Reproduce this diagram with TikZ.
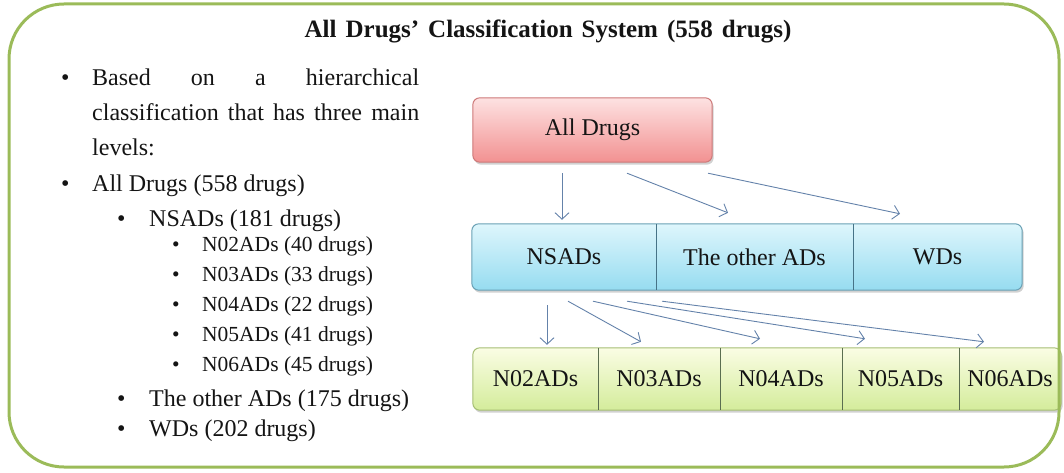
\documentclass[tikz,border=0pt]{standalone}
\usepackage{fontspec}
\setmainfont{Liberation Serif}
\usetikzlibrary{arrows.meta,calc,shadows}
\pgfdeclarelayer{background}
\pgfsetlayers{background,main}

\definecolor{frameG}{RGB}{155,187,89}
\definecolor{txt}{RGB}{20,20,20}
\definecolor{arr}{RGB}{100,130,170}
\definecolor{pinkT}{RGB}{253,226,226}
\definecolor{pinkB}{RGB}{242,145,145}
\definecolor{pinkD}{RGB}{205,120,120}
\definecolor{blueT}{RGB}{222,246,252}
\definecolor{blueB}{RGB}{150,220,240}
\definecolor{blueD}{RGB}{105,160,180}
\definecolor{blueL}{RGB}{70,115,135}
\definecolor{greenT}{RGB}{250,253,228}
\definecolor{greenB}{RGB}{212,236,155}
\definecolor{greenD}{RGB}{165,190,115}
\definecolor{greenL}{RGB}{90,110,80}

\newcommand\mainsz{\fontsize{24pt}{28pt}\selectfont}
\newcommand\subsz{\fontsize{21.5pt}{25pt}\selectfont}
\newcommand\bul[1]{\makebox[#1][l]{\textbullet}}

\begin{document}
\begin{tikzpicture}[x=1pt,y=-1pt,
  frame/.style={draw=frameG,line width=3pt,rounded corners=55pt},
  line/.style={anchor=base west,inner sep=0pt,text=txt},
  cell/.style={inner sep=0pt,text=txt,font=\mainsz},
  shade/.style={rounded corners=7pt,line width=1pt,
    drop shadow={shadow xshift=1.5pt,shadow yshift=-2.5pt,opacity=0.3,fill=black!60}},
  pinkbox/.style={shade,draw=pinkD,top color=pinkT,bottom color=pinkB},
  bluebox/.style={shade,draw=blueD,top color=blueT,bottom color=blueB},
  greenbox/.style={shade,draw=greenD,top color=greenT,bottom color=greenB},
  divb/.style={draw=blueL,line width=0.8pt},
  divg/.style={draw=greenL,line width=0.8pt},
  link/.style={draw=arr,line width=0.9pt,-{Straight Barb[length=6.5pt,width=14pt,line width=0.9pt]}}
]
\useasboundingbox (0,0) rectangle (1064,473);

% outer frame
\draw[frame] (9,4) rectangle (1059,467);

% title
\node[anchor=base,inner sep=0pt,text=txt,font=\fontsize{25pt}{30pt}\selectfont\bfseries] (title) at (548,38)
  {\spaceskip=9pt All Drugs’ Classification System (558 drugs)};

% bullet list
\node[line,font=\mainsz] (t1) at (61,86) {\bul{31pt}\hbox to 327pt{Based\hfill on\hfill a\hfill hierarchical}};
\node[line,font=\mainsz] (t2) at (92,121) {\hbox to 327pt{classification\hfil\ that\hfil\ has\hfil\ three\hfil\ main}};
\node[line,font=\mainsz] (t3) at (92,156) {levels:};
\node[line,font=\mainsz] (t4) at (61,191) {\bul{31pt}All Drugs (558 drugs)};
\node[line,font=\mainsz] (t5) at (117,226) {\bul{32pt}NSADs (181 drugs)};
\node[line,font=\subsz] (t6) at (172,251) {\bul{30pt}N02ADs (40 drugs)};
\node[line,font=\subsz] (t7) at (172,281) {\bul{30pt}N03ADs (33 drugs)};
\node[line,font=\subsz] (t8) at (172,311) {\bul{30pt}N04ADs (22 drugs)};
\node[line,font=\subsz] (t9) at (172,341) {\bul{30pt}N05ADs (41 drugs)};
\node[line,font=\subsz] (t10) at (172,371) {\bul{30pt}N06ADs (45 drugs)};
\node[line,font=\mainsz] (t11) at (117,406) {\bul{32pt}The other ADs (175 drugs)};
\node[line,font=\mainsz] (t12) at (117,436) {\bul{32pt}WDs (202 drugs)};

% level 1
\node[cell,minimum width=239pt,minimum height=64pt] (all) at (592.5,130) {All Drugs};

% level 2
\node[cell,minimum width=184pt,minimum height=66pt] (nsad)  at (564,257)   {NSADs};
\node[cell,minimum width=197pt,minimum height=66pt] (other) at (754.5,257) {The other ADs};
\node[cell,minimum width=169pt,minimum height=66pt] (wd)    at (937.5,257) {WDs};

% level 3
\node[cell,minimum width=125pt,minimum height=62pt] (n02) at (535.5,379) {N02ADs};
\node[cell,minimum width=122pt,minimum height=62pt] (n03) at (659,379)   {N03ADs};
\node[cell,minimum width=122pt,minimum height=62pt] (n04) at (781,379)   {N04ADs};
\node[cell,minimum width=117pt,minimum height=62pt] (n05) at (900.5,379) {N05ADs};
\node[cell,minimum width=102pt,minimum height=62pt] (n06) at (1010,379)  {N06ADs};

\begin{pgfonlayer}{background}
  \path[pinkbox]  (all.north west) rectangle (all.south east);
  \path[bluebox]  (nsad.north west) rectangle (wd.south east);
  \path[greenbox] (n02.north west) rectangle (n06.south east);
\end{pgfonlayer}

% cell dividers
\draw[divb] (nsad.north east) -- (nsad.south east);
\draw[divb] (other.north east) -- (other.south east);
\draw[divg] (n02.north east) -- (n02.south east);
\draw[divg] (n03.north east) -- (n03.south east);
\draw[divg] (n04.north east) -- (n04.south east);
\draw[divg] (n05.north east) -- (n05.south east);

% connectors from All Drugs
\draw[link] ($(all.south)+(-30.5,11)$) -- ($(nsad.north)+(-2,-4)$);
\draw[link] ($(all.south)+(34.5,11)$)  -- ($(other.north)+(-26.5,-11)$);
\draw[link] ($(all.south)+(115.5,11)$) -- ($(wd.north)+(-37.5,-10)$);

% connectors from NSADs
\draw[link] ($(nsad.south)+(-17,15)$) -- ($(n02.north)+(11.5,-3)$);
\draw[link] ($(nsad.south)+(4,11)$)   -- ($(n03.north)+(-18,-6)$);
\draw[link] ($(nsad.south)+(29,11)$)  -- ($(n04.north)+(-21,-9)$);
\draw[link] ($(nsad.south)+(63,11)$)  -- ($(n05.north)+(-35.5,-9)$);
\draw[link] ($(nsad.south)+(98,11)$)  -- ($(n06.north)+(-26,-6)$);
\end{tikzpicture}
\end{document}
